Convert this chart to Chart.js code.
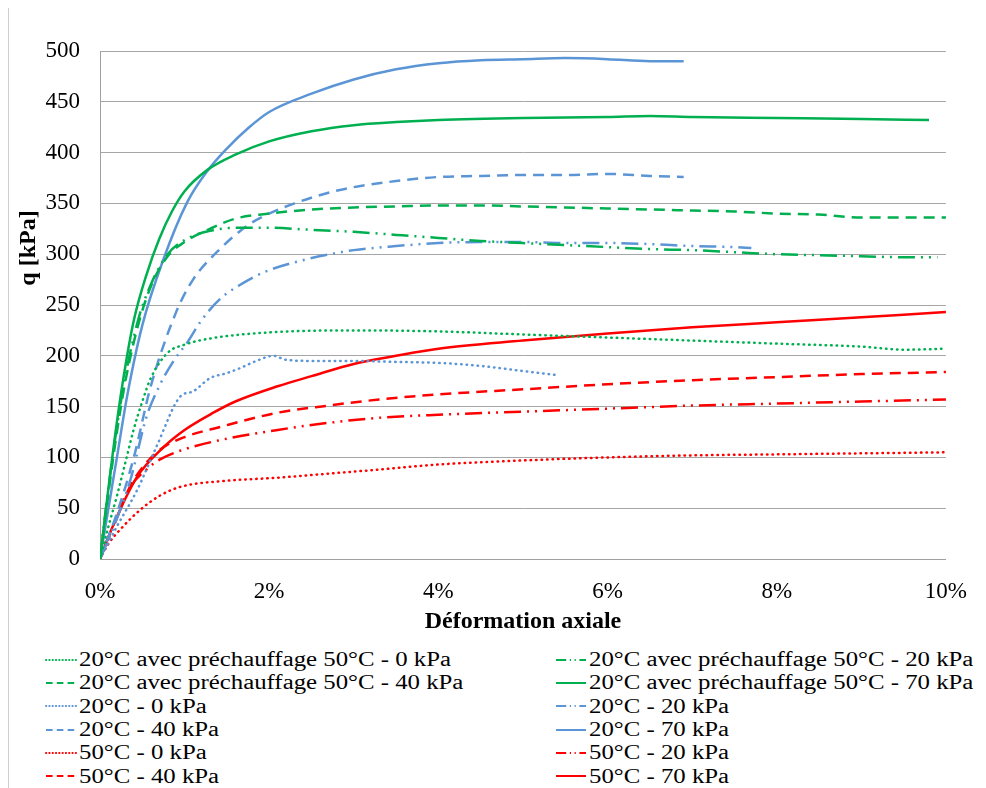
<!DOCTYPE html>
<html lang="fr">
<head>
<meta charset="utf-8">
<title>q - Déformation axiale</title>
<script src="https://cdn.jsdelivr.net/npm/chart.js@4.4.1/dist/chart.umd.min.js"></script>
<style>
  body { margin: 0; background: #fff; width: 986px; height: 788px; position: relative; overflow: hidden; }
  #edge { position: absolute; left: 8px; top: 8px; width: 1px; height: 780px; background: #cfcfcf; }
  #wrap { position: absolute; left: 0; top: 0; width: 986px; height: 640px; }
  #legend { position: absolute; left: 45px; top: 648px; display: grid; grid-template-columns: 510px 420px; grid-auto-rows: 23.3px;
            font-family: "Liberation Serif", "Times New Roman", serif; font-size: 20px; color: #000; }
  .item { display: flex; align-items: center; white-space: nowrap; }
  .item canvas { margin-right: 2px; }
  .item span { display: inline-block; transform: scaleX(1.24); transform-origin: left center; }
</style>
</head>
<body>
<div id="edge"></div>
<div id="wrap"><canvas id="chart" width="986" height="640"></canvas></div>
<div id="legend"></div>
<script>
// couleurs
const GREEN = "#00b050", BLUE = "#5b95d6", RED = "#ff0000";

// 20°C avec préchauffage 50°C
const xPre0 = [0, 0.1, 0.2, 0.3, 0.4, 0.5, 0.6, 0.8, 1.0, 1.3, 2, 3, 4, 5, 6, 7, 8, 9, 9.5, 10];
const qPre0 = [0, 32, 62, 95, 128, 155, 178, 203, 211, 217, 223, 225, 224, 221, 218, 215, 212, 209, 206, 207];
const xPre20 = [0, 0.1, 0.2, 0.3, 0.45, 0.6, 0.8, 1.0, 1.3, 1.6, 2, 2.5, 3, 3.5, 4, 4.5, 5, 5.5, 6, 6.5, 7, 7.5, 8, 8.5, 9, 9.5, 9.9];
const qPre20 = [0, 70, 130, 180, 235, 270, 300, 314, 323, 326, 326, 324, 322, 319, 316, 313, 311, 309, 307, 305, 304, 302, 300, 299, 298, 297, 297];
const xPre40 = [0, 0.1, 0.2, 0.3, 0.45, 0.6, 0.8, 1.0, 1.3, 1.6, 2, 2.5, 3, 3.5, 4, 4.5, 5, 5.5, 6, 6.5, 7, 7.5, 8, 8.5, 9, 9.5, 10];
const qPre40 = [0, 65, 125, 175, 230, 268, 298, 312, 325, 335, 340, 344, 346, 347, 348, 348, 347, 346, 345, 344, 343, 342, 340, 339, 336, 336, 336];
const xPre70 = [0, 0.1, 0.2, 0.3, 0.4, 0.55, 0.7, 0.85, 1.0, 1.27, 1.6, 2, 2.5, 3, 3.5, 4, 5, 6, 6.5, 7, 8, 9, 9.8];
const qPre70 = [0, 70, 135, 190, 235, 280, 315, 342, 362, 383, 398, 411, 421, 427, 430, 432, 434, 435, 436, 435, 434, 433, 432];

// 20°C
const x20_0 = [0, 0.2, 0.44, 0.67, 0.95, 1.1, 1.3, 1.5, 1.66, 1.85, 2.05, 2.2, 2.5, 3, 3.5, 4, 4.5, 5, 5.4];
const q20_0 = [0, 32, 68, 111, 160, 165, 178, 183, 188, 195, 200, 196, 195, 195, 194, 193, 190, 185, 181];
const x20_20 = [0, 0.2, 0.36, 0.55, 0.7, 0.87, 1.03, 1.2, 1.42, 1.7, 1.93, 2.3, 2.72, 3, 3.5, 4, 4.5, 5, 5.5, 6, 6.5, 7, 7.5, 7.7];
const q20_20 = [0, 40, 78, 140, 170, 195, 213, 235, 256, 272, 282, 292, 300, 304, 308, 311, 312, 312, 311, 311, 310, 308, 307, 306];
const x20_40 = [0, 0.2, 0.4, 0.6, 0.9, 1.1, 1.38, 1.74, 2, 2.3, 2.72, 3, 3.5, 4, 4.5, 5, 5.5, 6, 6.5, 6.9];
const q20_40 = [0, 45, 100, 170, 243, 275, 302, 328, 340, 350, 361, 366, 372, 376, 377, 378, 378, 379, 377, 376];
const x20_70 = [0, 0.1, 0.2, 0.32, 0.5, 0.75, 1.03, 1.27, 1.5, 1.75, 2, 2.5, 3, 3.5, 4, 4.5, 5, 5.5, 6, 6.5, 6.9];
const q20_70 = [0, 50, 100, 160, 230, 295, 351, 382, 404, 424, 440, 458, 472, 482, 488, 491, 492, 493, 492, 490, 490];

// 50°C
const x50_0 = [0, 0.1, 0.25, 0.47, 0.7, 0.95, 1.5, 2.1, 2.7, 3.3, 4, 5, 6, 7, 8, 9, 10];
const q50_0 = [0, 15, 30, 48, 62, 71, 77, 80, 84, 88, 93, 97, 100, 102, 103, 104, 105];
const x50_20 = [0, 0.15, 0.36, 0.55, 0.71, 1.0, 1.42, 2.1, 2.7, 3.3, 4, 5, 6, 7, 8, 9, 10];
const q50_20 = [0, 30, 71, 88, 98, 108, 117, 127, 134, 139, 142, 145, 148, 151, 153, 155, 157];
const x50_40 = [0, 0.15, 0.36, 0.55, 0.75, 1.0, 1.42, 2.1, 2.7, 3.3, 4, 5, 6, 7, 8, 9, 10];
const q50_40 = [0, 32, 72, 95, 110, 120, 130, 144, 151, 157, 162, 167, 172, 176, 179, 182, 184];
const x50_70 = [0, 0.15, 0.44, 0.75, 1.0, 1.34, 1.6, 2.1, 2.5, 3, 3.5, 4, 5, 6, 7, 8, 9, 10];
const q50_70 = [0, 32, 81, 110, 127, 144, 155, 170, 180, 192, 200, 207, 215, 222, 228, 233, 238, 243];

const xTicks = [0, 2, 4, 6, 8, 10];
const xTickLabels = ["0%", "2%", "4%", "6%", "8%", "10%"];

// styles de trait
const DOT = [0.5, 5], DASH = [11, 7], DASHDOT = [17, 6, 2, 6, 2, 6];

function serie(label, xs, ys, color, dash) {
  return {
    label: label,
    data: xs.map((x, i) => ({ x: x, y: ys[i] })),
    borderColor: color,
    backgroundColor: color,
    borderWidth: 2.5,
    borderDash: dash,
    borderCapStyle: dash === DOT ? "round" : "butt",
    pointRadius: 0,
    cubicInterpolationMode: "monotone",
    fill: false
  };
}

const datasets = [
  serie("20°C avec préchauffage 50°C - 0 kPa", xPre0, qPre0, GREEN, DOT),
  serie("20°C avec préchauffage 50°C - 20 kPa", xPre20, qPre20, GREEN, DASHDOT),
  serie("20°C avec préchauffage 50°C - 40 kPa", xPre40, qPre40, GREEN, DASH),
  serie("20°C avec préchauffage 50°C - 70 kPa", xPre70, qPre70, GREEN, []),
  serie("20°C - 0 kPa", x20_0, q20_0, BLUE, DOT),
  serie("20°C - 20 kPa", x20_20, q20_20, BLUE, DASHDOT),
  serie("20°C - 40 kPa", x20_40, q20_40, BLUE, DASH),
  serie("20°C - 70 kPa", x20_70, q20_70, BLUE, []),
  serie("50°C - 0 kPa", x50_0, q50_0, RED, DOT),
  serie("50°C - 20 kPa", x50_20, q50_20, RED, DASHDOT),
  serie("50°C - 40 kPa", x50_40, q50_40, RED, DASH),
  serie("50°C - 70 kPa", x50_70, q50_70, RED, [])
];

// titre vertical "q [kPa]" (placé comme dans l'original, au-dessus du centre)
const yTitle = {
  id: "yTitle",
  afterDraw(c) {
    const ctx = c.ctx;
    ctx.save();
    ctx.translate(29, 248);
    ctx.rotate(-Math.PI / 2);
    ctx.font = "bold 24px 'Liberation Serif'";
    ctx.fillStyle = "#000";
    ctx.textAlign = "center";
    ctx.textBaseline = "middle";
    ctx.fillText("q [kPa]", 0, 0);
    ctx.restore();
  }
};

const font = { family: "'Liberation Serif', 'Times New Roman', serif", size: 23 };

const chart = new Chart(document.getElementById("chart").getContext("2d"), {
  type: "line",
  data: { datasets: datasets },
  plugins: [yTitle],
  options: {
    responsive: false,
    animation: false,
    layout: { padding: { top: 51, right: 40, bottom: 0, left: 0 } },
    plugins: { legend: { display: false }, tooltip: { enabled: false } },
    scales: {
      x: {
        type: "linear",
        min: 0, max: 10,
        afterBuildTicks: s => { s.ticks = xTicks.map(v => ({ value: v })); },
        afterFit: s => { s.height = 81; },
        ticks: { font: font, color: "#000", padding: 19, maxRotation: 0,
                 callback: v => xTickLabels[xTicks.indexOf(v)] },
        grid: { display: false, drawTicks: false },
        border: { color: "#a0a0a0", width: 1 },
        title: { display: true, text: "Déformation axiale", color: "#000",
                 font: { family: font.family, size: 24, weight: "bold" }, padding: { top: 0, bottom: 4 } }
      },
      y: {
        min: 0, max: 500,
        afterFit: s => { s.width = 100; },
        ticks: { stepSize: 50, font: font, color: "#000", padding: 20 },
        grid: { color: "#a6a6a6", drawTicks: false },
        border: { color: "#a0a0a0", width: 1 }
      }
    }
  }
});

// légende sur deux colonnes
const legend = document.getElementById("legend");
datasets.forEach(ds => {
  const item = document.createElement("div");
  item.className = "item";
  const c = document.createElement("canvas");
  c.width = 32; c.height = 10;
  const g = c.getContext("2d");
  g.strokeStyle = ds.borderColor;
  g.lineWidth = 2;
  g.lineCap = ds.borderCapStyle;
  g.setLineDash(ds.borderDash.map(v => v * 0.6));
  g.beginPath(); g.moveTo(1, 5); g.lineTo(31, 5); g.stroke();
  const t = document.createElement("span");
  t.textContent = ds.label;
  item.appendChild(c);
  item.appendChild(t);
  legend.appendChild(item);
});
</script>
</body>
</html>
